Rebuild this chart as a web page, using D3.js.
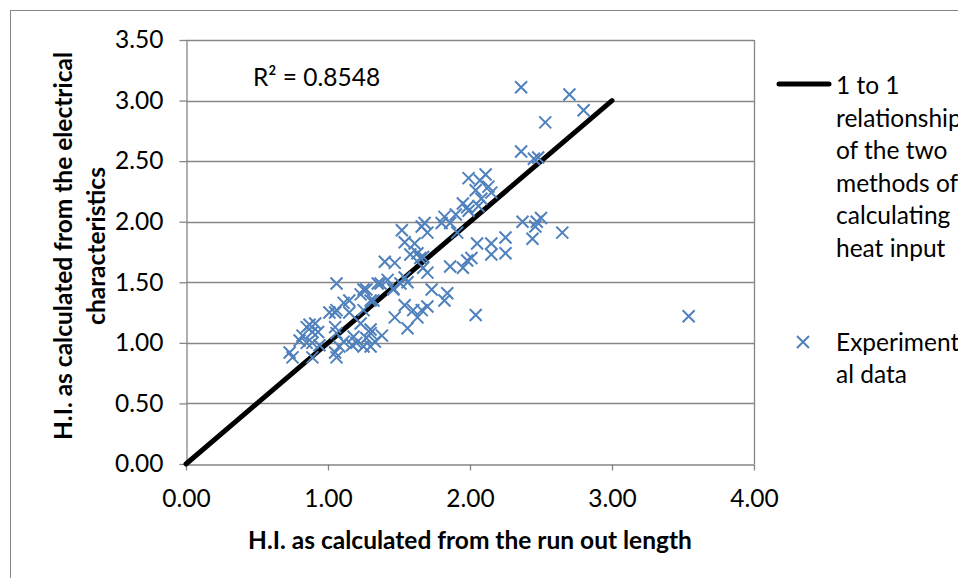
<!DOCTYPE html>
<html>
<head>
<meta charset="utf-8">
<script src="https://cdn.jsdelivr.net/npm/d3@7"></script>
<style>
	body { margin: 0; background: #fff; }
	svg { display: block; font-family: Lato, "Open Sans", sans-serif; }
</style>
</head>
<body>
<svg id="chart" width="958" height="578"></svg>
<script>

// heat input from run out length (x) vs from electrical characteristics (y)
var hiRunOut = [
	2.36, 2.70, 2.80, 2.53, 2.36, 2.45, 2.48, 2.11, 1.99, 2.07, 2.13, 2.04, 2.15, 2.08, 1.95, 1.98,
	2.06, 1.99, 1.90, 1.82, 1.80, 1.86, 1.68, 1.66, 1.70, 1.91, 1.52, 1.54, 1.61, 1.58, 1.63, 1.67,
	1.65, 1.40, 1.47, 1.67, 1.70, 1.54, 1.51, 1.46, 1.42, 1.73, 1.84, 2.37, 2.47, 2.50, 2.46, 2.44,
	2.65, 2.15, 2.25, 2.25, 2.15, 2.05, 2.01, 1.98, 1.95, 1.86, 2.04, 3.54, 1.25, 1.37, 1.32, 1.46,
	1.54, 1.60, 1.66, 1.70, 1.82, 1.47, 1.56, 1.63, 1.30, 1.27, 1.33, 1.38, 1.25, 1.06, 1.15, 1.23,
	1.27, 1.30, 1.25, 1.15, 1.05, 1.23, 1.30, 1.20, 1.17, 1.11, 1.08, 1.30, 1.35, 1.56, 0.73, 0.75,
	0.85, 0.89, 0.87, 0.91, 0.82, 0.85, 0.89, 0.93, 1.01, 1.06, 1.11, 1.05, 1.06, 1.05, 1.06, 1.18,
	0.89, 0.80, 0.94
]
var hiElectrical = [
	3.11, 3.05, 2.92, 2.82, 2.58, 2.52, 2.53, 2.39, 2.36, 2.34, 2.29, 2.26, 2.24, 2.19, 2.15, 2.12,
	2.13, 2.09, 2.06, 2.04, 1.99, 1.99, 1.99, 1.96, 1.91, 1.91, 1.93, 1.83, 1.82, 1.73, 1.74, 1.71,
	1.70, 1.67, 1.66, 1.62, 1.58, 1.54, 1.49, 1.45, 1.52, 1.44, 1.41, 2.00, 2.00, 2.03, 1.96, 1.86,
	1.91, 1.82, 1.87, 1.74, 1.73, 1.82, 1.70, 1.68, 1.62, 1.63, 1.23, 1.22, 1.44, 1.49, 1.35, 1.44,
	1.31, 1.27, 1.27, 1.30, 1.35, 1.21, 1.12, 1.21, 1.11, 1.04, 1.01, 1.06, 0.97, 1.49, 1.35, 1.40,
	1.44, 1.35, 1.27, 1.25, 1.25, 1.16, 1.08, 1.00, 0.98, 1.01, 0.97, 0.97, 1.49, 1.50, 0.92, 0.88,
	1.13, 1.09, 1.15, 1.16, 1.06, 1.00, 1.00, 1.09, 1.25, 1.27, 1.33, 1.13, 1.08, 0.92, 0.88, 1.05,
	0.88, 1.02, 0.98
]

// 1 to 1 line
var oneToOneX = [0, 3]
var oneToOneY = [0, 3]

var xTicks = [0, 1, 2, 3, 4]
var yTicks = [0, 0.5, 1, 1.5, 2, 2.5, 3, 3.5]

var rSquaredLabel = "R² = 0.8548"
var xTitle = "H.I. as calculated from the run out length"
var yTitleLines = ["H.I. as calculated from the electrical", "characteristics"]
var legendLineText = ["1 to 1", "relationship", "of the two", "methods of", "calculating", "heat input"]
var legendDataText = ["Experiment", "al data"]


var gridColor = "#868686"
var markColor = "#4f81bd"
var fontSize = 24.5

var svg = d3.select("#chart")

// chart area border
svg.append("rect")
	.attr("x", 10.5).attr("y", 10.5)
	.attr("width", 970).attr("height", 590)
	.attr("fill", "#fff")
	.attr("stroke", gridColor)
	.attr("stroke-width", 1)

var xScale = d3.scaleLinear().domain([0, 4]).range([186, 754])
var yScale = d3.scaleLinear().domain([0, 3.5]).range([464, 40])

// gridlines
svg.append("g")
	.selectAll("line")
	.data(yTicks.filter(function(d){ return d > 0 }))
	.enter()
	.append("line")
		.attr("x1", xScale(0)).attr("x2", xScale(4))
		.attr("y1", function(d){ return Math.round(yScale(d)) + 0.5 })
		.attr("y2", function(d){ return Math.round(yScale(d)) + 0.5 })
		.attr("stroke", gridColor)
		.attr("stroke-width", 1.3)

// right border of plot area
svg.append("line")
	.attr("x1", xScale(4) + 0.5).attr("x2", xScale(4) + 0.5)
	.attr("y1", yScale(3.5)).attr("y2", yScale(0))
	.attr("stroke", gridColor)
	.attr("stroke-width", 1.3)

var yAxis = svg.append("g")
	.attr("transform", "translate(" + (xScale(0) + 0.5) + ",0)")
	.call(d3.axisLeft(yScale).tickValues(yTicks).tickFormat(d3.format(".2f")).tickSize(7).tickSizeOuter(0).tickPadding(16))

var xAxis = svg.append("g")
	.attr("transform", "translate(0," + (yScale(0) + 0.5) + ")")
	.call(d3.axisBottom(xScale).tickValues(xTicks).tickFormat(d3.format(".2f")).tickSize(6).tickSizeOuter(0).tickPadding(19))

;[xAxis, yAxis].forEach(function(ax){
	ax.selectAll("path, line")
		.attr("stroke", gridColor)
		.attr("stroke-width", 1.3)
	ax.selectAll("text")
		.attr("fill", "#000")
		.style("font-size", fontSize + "px")
		.style("font-family", "Lato, sans-serif")
})

// 1 to 1 line
svg.append("path")
	.datum(d3.zip(oneToOneX, oneToOneY))
	.attr("d", d3.line()
		.x(function(d){ return xScale(d[0]) })
		.y(function(d){ return yScale(d[1]) }))
	.attr("fill", "none")
	.attr("stroke", "#000")
	.attr("stroke-width", 5)
	.attr("stroke-linecap", "round")

// experimental points
var cross = "M-6,-6L6,6M-6,6L6,-6"
svg.append("g")
	.selectAll("path")
	.data(d3.zip(hiRunOut, hiElectrical))
	.enter()
	.append("path")
		.attr("transform", function(d){ return "translate(" + xScale(d[0]) + "," + yScale(d[1]) + ")" })
		.attr("d", cross)
		.attr("fill", "none")
		.attr("stroke", markColor)
		.attr("stroke-width", 2)

// R squared
svg.append("text")
	.attr("x", 253).attr("y", 86)
	.style("font-size", fontSize + "px")
	.text(rSquaredLabel)

// axis titles
svg.append("text")
	.attr("x", 470).attr("y", 549)
	.attr("text-anchor", "middle")
	.style("font-size", fontSize + "px")
	.style("font-weight", "bold")
	.text(xTitle)

svg.append("g")
	.attr("transform", "translate(0,246) rotate(-90)")
	.selectAll("text")
	.data(yTitleLines)
	.enter()
	.append("text")
		.attr("x", 0)
		.attr("y", function(d, i){ return 72 + i * 33 })
		.attr("text-anchor", "middle")
		.style("font-size", fontSize + "px")
		.style("font-weight", "bold")
		.text(function(d){ return d })

// legend
svg.append("line")
	.attr("x1", 779).attr("x2", 829)
	.attr("y1", 84).attr("y2", 84)
	.attr("stroke", "#000")
	.attr("stroke-width", 5)
	.attr("stroke-linecap", "round")

svg.append("g")
	.selectAll("text")
	.data(legendLineText)
	.enter()
	.append("text")
		.attr("x", 836)
		.attr("y", function(d, i){ return 94 + i * 32.5 })
		.style("font-size", fontSize + "px")
		.text(function(d){ return d })

svg.append("path")
	.attr("transform", "translate(803,342)")
	.attr("d", cross)
	.attr("fill", "none")
	.attr("stroke", markColor)
	.attr("stroke-width", 2)

svg.append("g")
	.selectAll("text")
	.data(legendDataText)
	.enter()
	.append("text")
		.attr("x", 836)
		.attr("y", function(d, i){ return 351 + i * 32 })
		.style("font-size", fontSize + "px")
		.text(function(d){ return d })

</script>
</body>
</html>
